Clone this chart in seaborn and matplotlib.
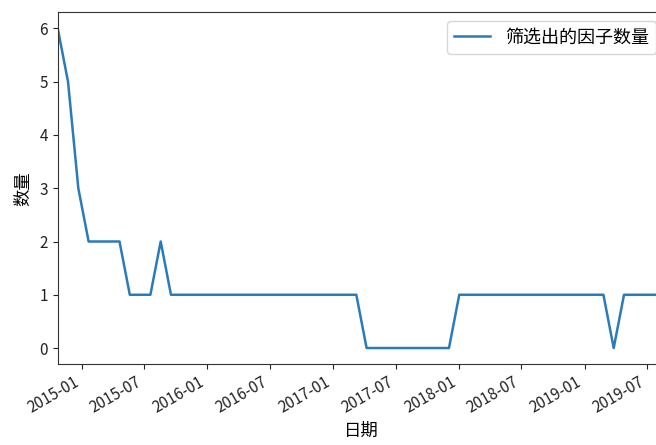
import pandas as pd
import seaborn as sns
import matplotlib.pyplot as plt
import matplotlib.dates as mdates

# 筛选出的因子数量，大约每 20 个交易日一次
start_date = "2014-10-23"
end_date = "2019-08-23"
n_points = 60
factor_count = [6, 5, 3, 2, 2, 2, 2, 1, 1, 1,
                2, 1, 1, 1, 1, 1, 1, 1, 1, 1,
                1, 1, 1, 1, 1, 1, 1, 1, 1, 1,
                0, 0, 0, 0, 0, 0, 0, 0, 0, 1,
                1, 1, 1, 1, 1, 1, 1, 1, 1, 1,
                1, 1, 1, 1, 0, 1, 1, 1, 1, 1]
series_label = "筛选出的因子数量"

dates = pd.date_range(start_date, end_date, periods=n_points)
df = pd.DataFrame({"日期": dates, "数量": factor_count})

plt.rcParams["font.family"] = ["Noto Sans CJK SC", "DejaVu Sans"]
plt.rcParams["axes.unicode_minus"] = False

fig, ax = plt.subplots(figsize=(6.56, 4.45), dpi=100)
sns.lineplot(x="日期", y="数量", data=df, label=series_label, color="#2b7bba", linewidth=1.8, ax=ax)

ax.set_xlim(dates[0], dates[-1])
ax.set_ylim(-0.3, 6.3)
ax.xaxis.set_major_locator(mdates.MonthLocator(bymonth=[1, 7]))
ax.xaxis.set_major_formatter(mdates.DateFormatter("%Y-%m"))
plt.setp(ax.get_xticklabels(), rotation=30, ha="right")
ax.tick_params(labelsize=11, colors="#222222")
for spine in ax.spines.values():
    spine.set_color("#333333")
ax.set_xlabel("日期", fontsize=12.5)
ax.set_ylabel("数量", fontsize=12.5, labelpad=5)
ax.legend(loc="upper right", fontsize=13)

ax.set_position([0.088, 0.182, 0.926, 0.790])
fig.savefig("out.png", dpi=100)
